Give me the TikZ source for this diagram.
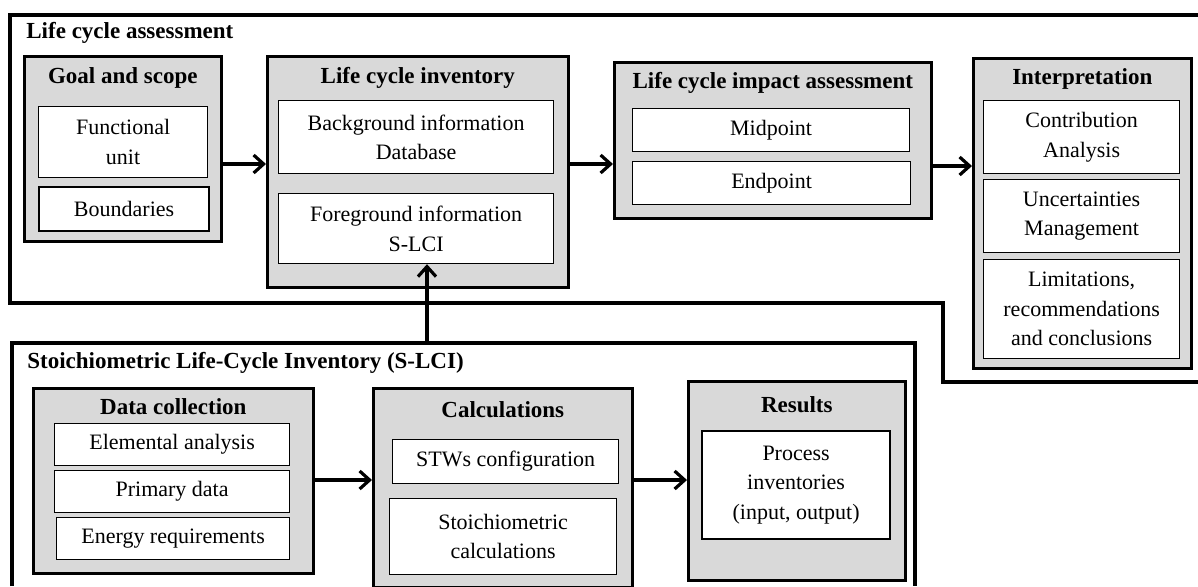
\documentclass[tikz,border=0pt]{standalone}
\usepackage{fontspec}
\setmainfont{Liberation Serif}
\usetikzlibrary{arrows.meta}
\definecolor{boxgray}{HTML}{D9D9D9}

\begin{document}
\begin{tikzpicture}[
        x=0.5pt, y=-0.5pt,
        stage/.style={draw, line width=1.3pt, fill=boxgray, anchor=north west, inner sep=0pt},
        item/.style={draw, line width=0.6pt, fill=white, anchor=north west, align=center, inner sep=0pt, font=\fontsize{11}{14.75}\selectfont},
        itemthick/.style={item, line width=1.1pt},
        head/.style={font=\fontsize{11.5}{14}\selectfont\bfseries, inner sep=0pt},
        frame/.style={line width=1.8pt},
        flow/.style={line width=1.6pt, -{Straight Barb[length=5pt, width=9pt]}}
    ]
    \useasboundingbox (0,0) rectangle (1198,586);

    % outer frames
    \draw[frame] (1198,15) -- (10,15) -- (10,303) -- (943,303) -- (943,382) -- (1198,382);
    \draw[frame] (12,586) -- (12,343) -- (915,343) -- (915,586);
    \node[head, anchor=west] (lcatitle) at (26,33) {Life cycle assessment};
    \node[head, anchor=west] (slcititle) at (27,363) {Stoichiometric Life-Cycle Inventory (S-LCI)};

    % life cycle assessment
    \node[stage, minimum width=98.5pt, minimum height=92.5pt] (goal) at (23,55) {};
    \node[head] (goalhead) at ([yshift=-11.5pt]goal.north) {Goal and scope};
    \node[item, minimum width=84.5pt, minimum height=35.5pt] (fu) at (38,106) {Functional\\unit};
    \node[itemthick, minimum width=85pt, minimum height=22pt] (bound) at (38,186) {Boundaries};

    \node[stage, minimum width=150.5pt, minimum height=115.5pt] (lci) at (266,55) {};
    \node[head] (lcihead) at ([yshift=-11.5pt]lci.north) {Life cycle inventory};
    \node[item, minimum width=137.5pt, minimum height=36.5pt] (bg) at (278,100) {Background information\\Database};
    \node[item, minimum width=137.5pt, minimum height=35pt] (fg) at (278,193) {Foreground information\\S-LCI};

    \node[stage, minimum width=158.5pt, minimum height=78pt] (lcia) at (613,61) {};
    \node[head] (lciahead) at ([yshift=-11pt]lcia.north) {Life cycle impact assessment};
    \node[item, minimum width=138.5pt, minimum height=21.5pt] (mid) at (632,108) {Midpoint};
    \node[item, minimum width=139pt, minimum height=21.5pt] (end) at (632,161) {Endpoint};

    \node[stage, minimum width=109pt, minimum height=155pt] (interp) at (972,57) {};
    \node[head] (interphead) at ([yshift=-11pt]interp.north) {Interpretation};
    \node[item, minimum width=98pt, minimum height=36.5pt] (contrib) at (983,100) {Contribution\\Analysis};
    \node[item, minimum width=98pt, minimum height=36.5pt] (uncert) at (983,179) {Uncertainties\\Management};
    \node[item, minimum width=98pt, minimum height=49.5pt] (limits) at (983,259) {Limitations,\\recommendations\\and conclusions};

    % stoichiometric inventory
    \node[stage, minimum width=140pt, minimum height=92.5pt] (data) at (32,387) {};
    \node[head] (datahead) at ([yshift=-10pt]data.north) {Data collection};
    \node[item, minimum width=117.5pt, minimum height=21pt] (elem) at (54,423) {Elemental analysis};
    \node[item, minimum width=117.5pt, minimum height=21pt] (prim) at (54,470) {Primary data};
    \node[item, minimum width=116.5pt, minimum height=21pt] (energy) at (56,517) {Energy requirements};

    \node[stage, minimum width=129.5pt, minimum height=99.5pt] (calc) at (372,387) {};
    \node[head] (calchead) at ([yshift=-11.5pt]calc.north) {Calculations};
    \node[item, minimum width=113pt, minimum height=22pt] (stw) at (392,439) {STWs configuration};
    \node[item, minimum width=113.5pt, minimum height=38pt] (stoich) at (389,498) {Stoichiometric\\calculations};

    \node[stage, minimum width=108.5pt, minimum height=99.5pt] (res) at (687,380) {};
    \node[head] (reshead) at ([yshift=-12.5pt]res.north) {Results};
    \node[itemthick, minimum width=94pt, minimum height=54pt] (proc) at (701,430) {Process\\inventories\\(input, output)};

    % flows
    \coordinate (toprow) at (0,164);
    \coordinate (siderow) at (0,166);
    \coordinate (lowrow) at (0,480);
    \coordinate (slcitop) at (427,343);
    \draw[flow] (goal.east |- toprow) -- (lci.west |- toprow);
    \draw[flow] (lci.east |- toprow) -- (lcia.west |- toprow);
    \draw[flow] (lcia.east |- siderow) -- (interp.west |- siderow);
    \draw[flow] (data.east |- lowrow) -- (calc.west |- lowrow);
    \draw[flow] (calc.east |- lowrow) -- (res.west |- lowrow);
    \draw[flow] (slcitop) -- (fg.south -| slcitop);
\end{tikzpicture}
\end{document}
